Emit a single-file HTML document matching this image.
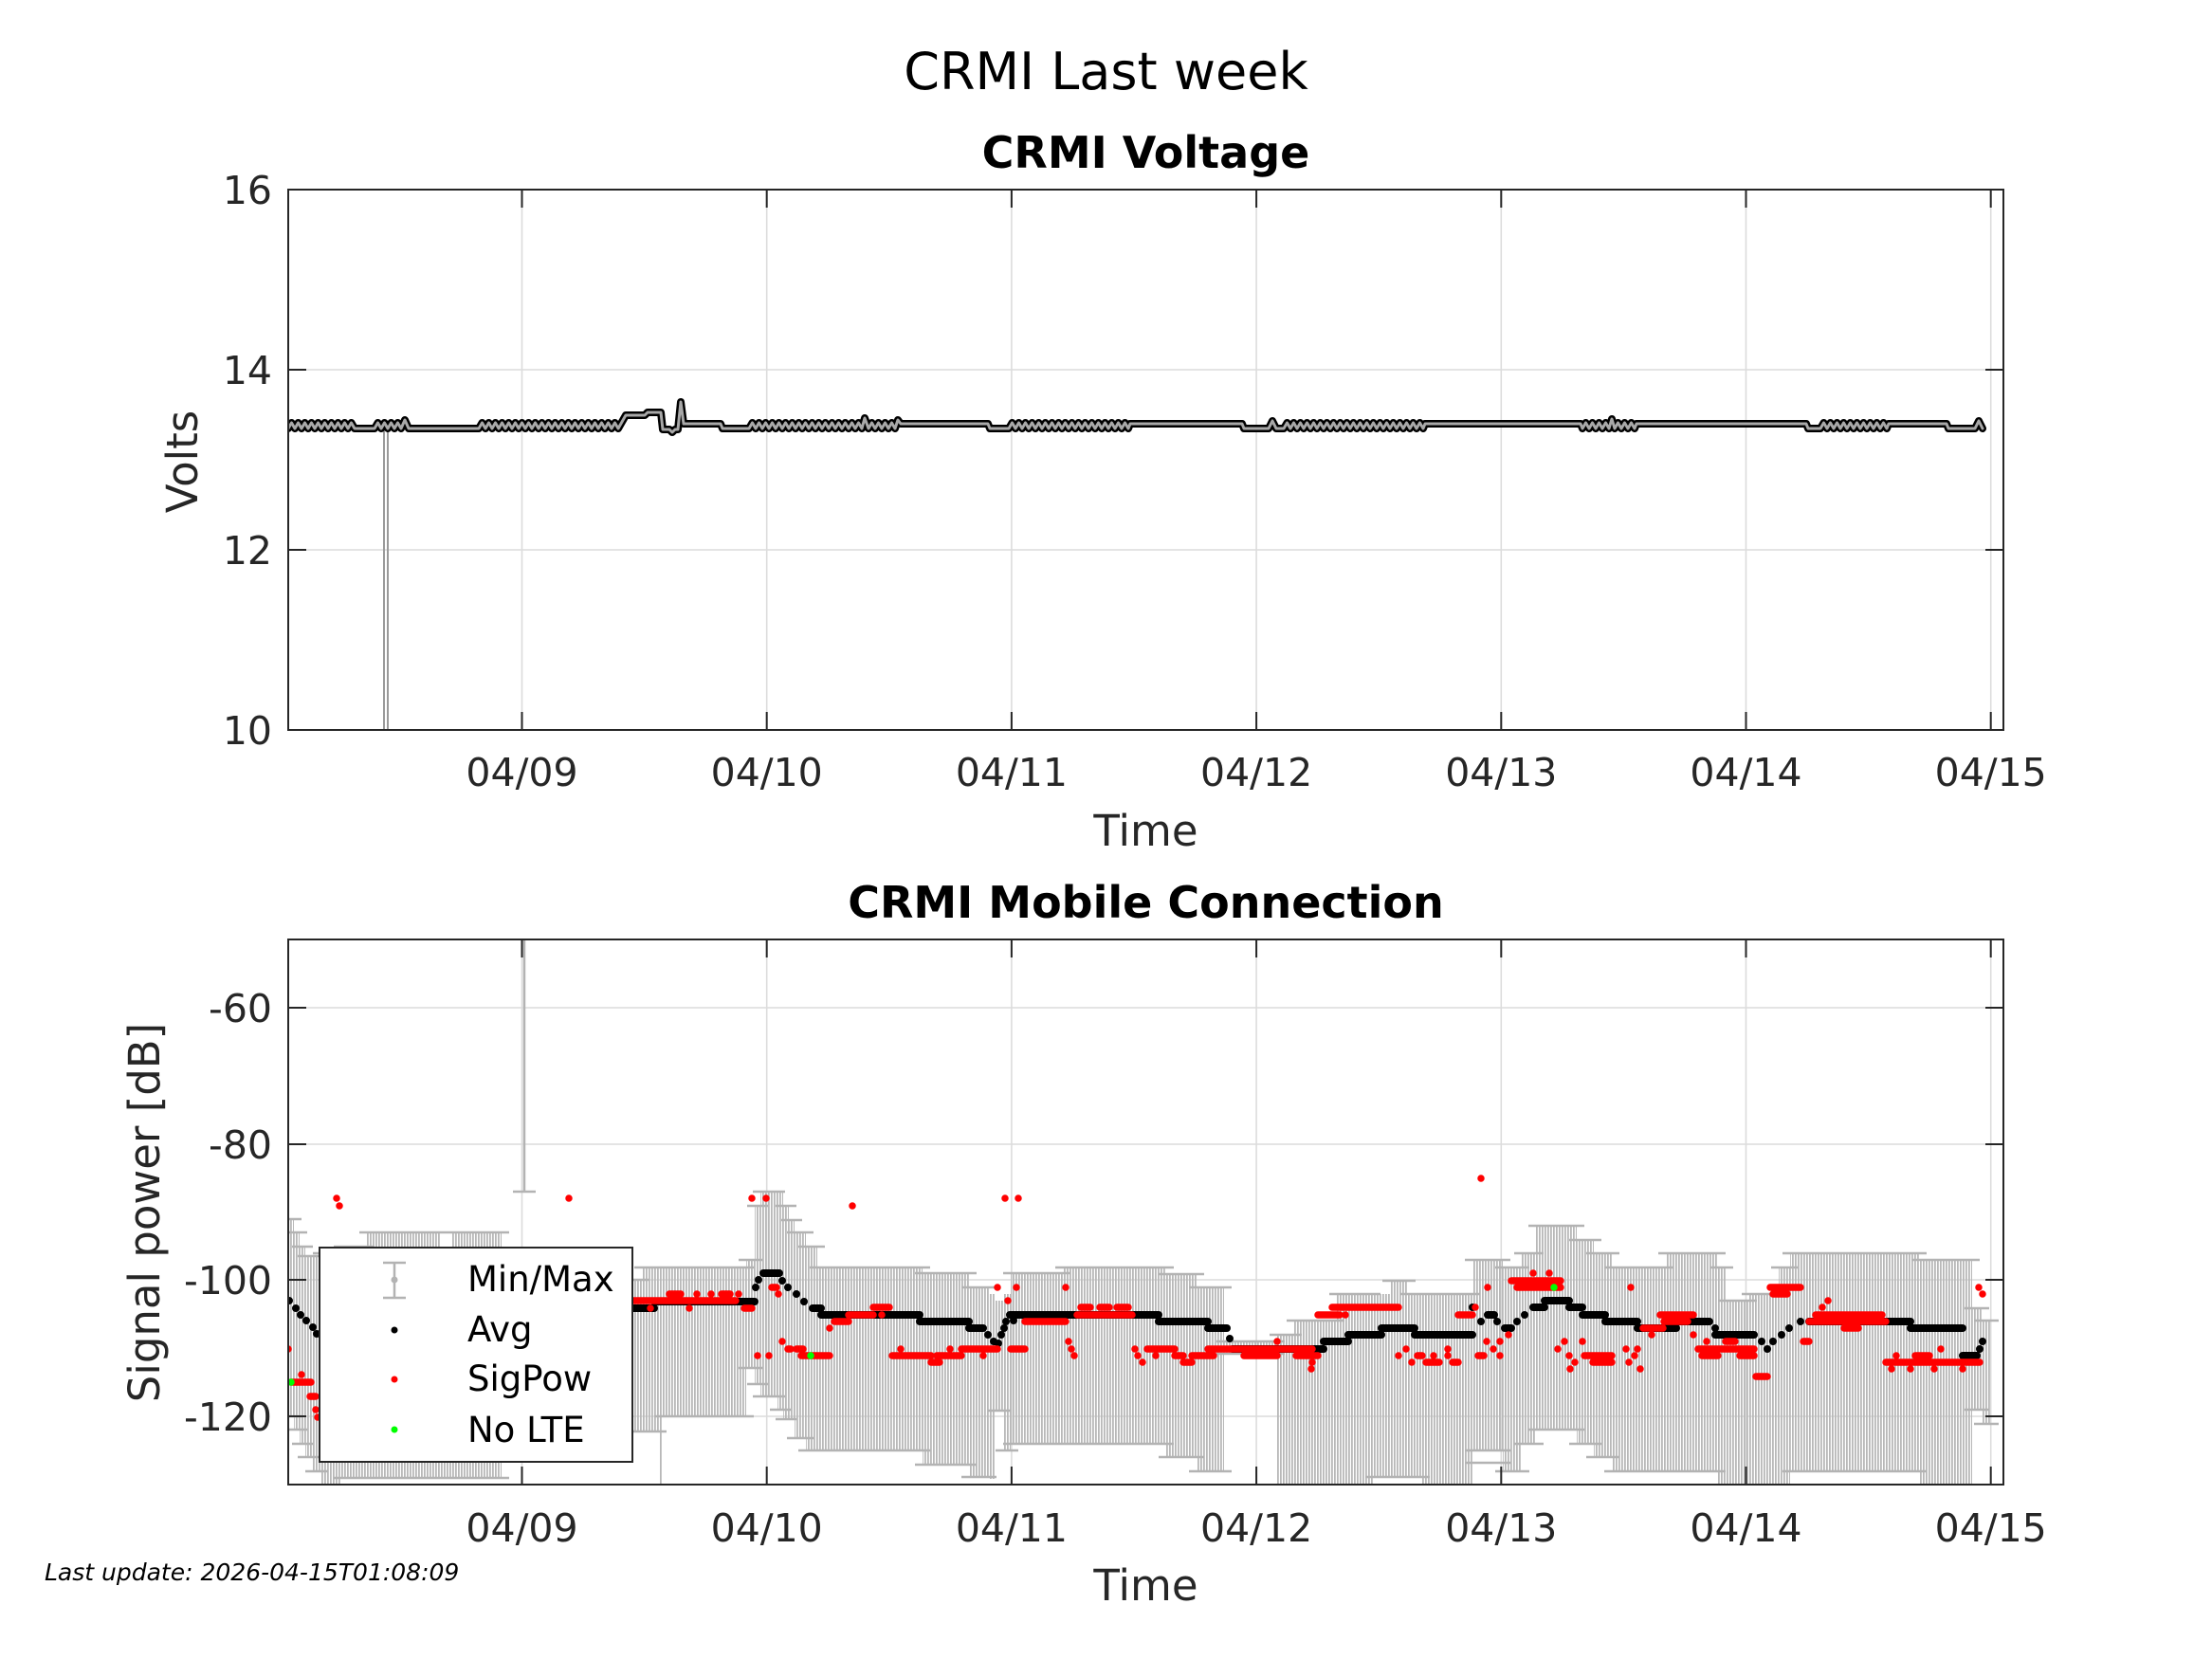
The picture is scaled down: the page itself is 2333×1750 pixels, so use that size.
<!DOCTYPE html>
<html><head><meta charset="utf-8"><style>
html,body{margin:0;padding:0;background:#fff;}
svg{display:block;}
text{font-family:"DejaVu Sans","Liberation Sans",sans-serif;}
</style></head><body>
<svg width="2333" height="1750" viewBox="0 0 2333 1750" xmlns="http://www.w3.org/2000/svg">
<defs>
<pattern id="eb" width="3" height="8" patternUnits="userSpaceOnUse"><rect x="0" y="0" width="1.8" height="8" fill="#b8b8b8"/></pattern>
<clipPath id="c1"><rect x="304" y="200" width="1809" height="570"/></clipPath>
<clipPath id="c2"><rect x="304" y="991" width="1809" height="575"/></clipPath>
<path id="vl" d="M304 452l3.5-6 3.5 6 3.5-6 3.5 6 3.5-6 3.5 6 3.5-6 3.5 6 3.5-6 3.5 6 3.5-6 3.5 6 3.5-6 3.5 6 3.5-6 3.5 6 3.5-6 3.5 6 3.5-6 3.5 6H395l3.5-6 3.5 6 3.5-6 3.5 6 3.5-6 3.5 6 3.5-6 3.5 6L427 443L431 452H505l3.5-6 3.5 6 3.5-6 3.5 6 3.5-6 3.5 6 3.5-6 3.5 6 3.5-6 3.5 6 3.5-6 3.5 6 3.5-6 3.5 6 3.5-6 3.5 6 3.5-6 3.5 6 3.5-6 3.5 6 3.5-6 3.5 6 3.5-6 3.5 6 3.5-6 3.5 6 3.5-6 3.5 6 3.5-6 3.5 6 3.5-6 3.5 6 3.5-6 3.5 6 3.5-6 3.5 6 3.5-6 3.5 6 3.5-6 3.5 6 3.5-6 3.5 6L660 438H680L683 435H697L699 453H706L709 456L712 453H715L718 424L721 447H760L762 452H790l3.5-6 3.5 6 3.5-6 3.5 6 3.5-6 3.5 6 3.5-6 3.5 6 3.5-6 3.5 6 3.5-6 3.5 6 3.5-6 3.5 6 3.5-6 3.5 6 3.5-6 3.5 6 3.5-6 3.5 6 3.5-6 3.5 6 3.5-6 3.5 6 3.5-6 3.5 6 3.5-6 3.5 6 3.5-6 3.5 6 3.5-6 3.5 6 3.5-6 3.5 6L912 441L916 452l3.5-6 3.5 6 3.5-6 3.5 6 3.5-6 3.5 6 3.5-6 3.5 6L947 443L950 447H1042L1044 452H1064l3.5-6 3.5 6 3.5-6 3.5 6 3.5-6 3.5 6 3.5-6 3.5 6 3.5-6 3.5 6 3.5-6 3.5 6 3.5-6 3.5 6 3.5-6 3.5 6 3.5-6 3.5 6 3.5-6 3.5 6 3.5-6 3.5 6 3.5-6 3.5 6 3.5-6 3.5 6 3.5-6 3.5 6 3.5-6 3.5 6 3.5-6 3.5 6 3.5-6 3.5 6 3.5-6 3.5 6L1192 447H1310L1312 452H1338L1342 444L1346 452H1354l3.5-6 3.5 6 3.5-6 3.5 6 3.5-6 3.5 6 3.5-6 3.5 6 3.5-6 3.5 6 3.5-6 3.5 6 3.5-6 3.5 6 3.5-6 3.5 6 3.5-6 3.5 6 3.5-6 3.5 6 3.5-6 3.5 6 3.5-6 3.5 6 3.5-6 3.5 6 3.5-6 3.5 6 3.5-6 3.5 6 3.5-6 3.5 6 3.5-6 3.5 6 3.5-6 3.5 6 3.5-6 3.5 6 3.5-6 3.5 6 3.5-6 3.5 6L1503 447H1667L1669 452l3.5-6 3.5 6 3.5-6 3.5 6 3.5-6 3.5 6 3.5-6 3.5 6L1700 442L1703 452l3.5-6 3.5 6 3.5-6 3.5 6 3.5-6 3.5 6L1726 447H1905L1907 452H1920l3.5-6 3.5 6 3.5-6 3.5 6 3.5-6 3.5 6 3.5-6 3.5 6 3.5-6 3.5 6 3.5-6 3.5 6 3.5-6 3.5 6 3.5-6 3.5 6 3.5-6 3.5 6 3.5-6 3.5 6L1992 447H2053L2055 452H2083L2087 444L2091 452"/>
</defs>
<rect width="2333" height="1750" fill="#fff"/>

<text x="1166.5" y="94" font-size="54" text-anchor="middle" fill="#000">CRMI Last week</text>
<text x="1208.5" y="177" font-size="46" font-weight="bold" text-anchor="middle" fill="#000">CRMI Voltage</text>
<text x="1208.5" y="968" font-size="46" font-weight="bold" text-anchor="middle" fill="#000">CRMI Mobile Connection</text>

<g stroke="#dcdcdc" stroke-width="1.6" fill="none">
<path d="M304 390H2113M304 580H2113"/>
<path d="M550.5 200V770M808.7 200V770M1066.9 200V770M1325.1 200V770M1583.3 200V770M1841.5 200V770M2099.7 200V770"/>
</g>
<g clip-path="url(#c1)">
<path d="M405 452V772M409 452V772" stroke="#9a9a9a" stroke-width="2" fill="none"/>
<g fill="none" stroke-linejoin="round" stroke-linecap="round">
<use href="#vl" stroke="#000" stroke-width="8"/>
<use href="#vl" stroke="#a8a8a8" stroke-width="3"/>
</g>
</g>
<rect x="304" y="200" width="1809" height="570" fill="none" stroke="#262626" stroke-width="2"/>
<g stroke="#262626" stroke-width="2" fill="none">
<path d="M304 200h19M304 390h19M304 580h19M304 770h19M2113 200h-19M2113 390h-19M2113 580h-19M2113 770h-19"/>
<path d="M550.5 770v-19M808.7 770v-19M1066.9 770v-19M1325.1 770v-19M1583.3 770v-19M1841.5 770v-19M2099.7 770v-19"/>
<path d="M550.5 200v19M808.7 200v19M1066.9 200v19M1325.1 200v19M1583.3 200v19M1841.5 200v19M2099.7 200v19"/>
</g>
<g font-size="41" fill="#262626" text-anchor="end">
<text x="287" y="215">16</text><text x="287" y="405">14</text><text x="287" y="595">12</text><text x="287" y="785">10</text>
</g>
<g font-size="41" fill="#262626" text-anchor="middle">
<text x="550.5" y="829">04/09</text><text x="808.7" y="829">04/10</text><text x="1066.9" y="829">04/11</text><text x="1325.1" y="829">04/12</text><text x="1583.3" y="829">04/13</text><text x="1841.5" y="829">04/14</text><text x="2099.7" y="829">04/15</text>
</g>
<text x="1208.5" y="892" font-size="45" fill="#262626" text-anchor="middle">Time</text>
<text transform="translate(208,487) rotate(-90)" font-size="45" fill="#262626" text-anchor="middle">Volts</text>

<g stroke="#dcdcdc" stroke-width="1.6" fill="none">
<path d="M304 1063H2113M304 1207H2113M304 1350H2113M304 1494H2113"/>
<path d="M550.5 991V1566M808.7 991V1566M1066.9 991V1566M1325.1 991V1566M1583.3 991V1566M1841.5 991V1566M2099.7 991V1566"/>
</g>
<g clip-path="url(#c2)">
<g fill="url(#eb)">
<rect x="304" y="1286" width="6" height="208"/>
<rect x="310" y="1300" width="6" height="208"/>
<rect x="316" y="1315" width="6" height="208"/>
<rect x="322" y="1325" width="8" height="212"/>
<rect x="330" y="1325" width="8" height="227"/>
<rect x="338" y="1322" width="22" height="244"/>
<rect x="360" y="1315" width="27" height="244"/>
<rect x="387" y="1300" width="78" height="259"/>
<rect x="465" y="1330" width="12" height="229"/>
<rect x="477" y="1300" width="52" height="259"/>
<rect x="529" y="1337" width="138" height="183"/>
<rect x="667" y="1350" width="10" height="160"/>
<rect x="677" y="1337" width="18" height="173"/>
<rect x="695" y="1337" width="3" height="229"/>
<rect x="698" y="1337" width="89" height="157"/>
<rect x="787" y="1329" width="9" height="114"/>
<rect x="796" y="1272" width="6" height="188"/>
<rect x="802" y="1257" width="18" height="216"/>
<rect x="820" y="1257" width="6" height="230"/>
<rect x="826" y="1272" width="6" height="225"/>
<rect x="832" y="1287" width="6" height="210"/>
<rect x="838" y="1300" width="12" height="217"/>
<rect x="850" y="1315" width="12" height="215"/>
<rect x="862" y="1337" width="111" height="193"/>
<rect x="973" y="1343" width="49" height="202"/>
<rect x="1022" y="1358" width="21" height="200"/>
<rect x="1043" y="1365" width="7" height="195"/>
<rect x="1050" y="1372" width="8" height="116"/>
<rect x="1058" y="1365" width="8" height="165"/>
<rect x="1066" y="1343" width="55" height="180"/>
<rect x="1121" y="1337" width="109" height="186"/>
<rect x="1230" y="1344" width="32" height="193"/>
<rect x="1262" y="1358" width="29" height="194"/>
<rect x="1291" y="1415" width="56" height="13"/>
<rect x="1347" y="1408" width="18" height="158"/>
<rect x="1365" y="1393" width="45" height="173"/>
<rect x="1410" y="1365" width="38" height="201"/>
<rect x="1448" y="1365" width="18" height="193"/>
<rect x="1466" y="1351" width="19" height="207"/>
<rect x="1485" y="1365" width="15" height="193"/>
<rect x="1500" y="1365" width="53" height="201"/>
<rect x="1553" y="1329" width="32" height="201"/>
<rect x="1585" y="1337" width="20" height="215"/>
<rect x="1605" y="1322" width="15" height="201"/>
<rect x="1620" y="1293" width="43" height="215"/>
<rect x="1663" y="1308" width="18" height="215"/>
<rect x="1681" y="1322" width="19" height="215"/>
<rect x="1700" y="1337" width="57" height="215"/>
<rect x="1757" y="1322" width="55" height="230"/>
<rect x="1812" y="1337" width="8" height="229"/>
<rect x="1820" y="1372" width="25" height="194"/>
<rect x="1845" y="1365" width="31" height="201"/>
<rect x="1876" y="1337" width="12" height="229"/>
<rect x="1888" y="1322" width="136" height="230"/>
<rect x="2024" y="1329" width="56" height="237"/>
<rect x="2080" y="1380" width="10" height="107"/>
<rect x="2090" y="1393" width="10" height="109"/>
</g>
<path fill="none" stroke="#b3b3b3" stroke-width="2.5" d="M296 1286H318M296 1494H318M302 1300H324M302 1508H324M308 1315H330M308 1523H330M314 1325H338M314 1537H338M322 1325H346M322 1552H346M330 1322H368M352 1315H395M352 1559H395M379 1300H473M379 1559H473M457 1559H485M469 1300H537M469 1559H537M659 1350H685M659 1510H685M669 1337H703M669 1510H703M690 1337H795M690 1494H795M779 1329H804M779 1443H804M788 1272H810M788 1460H810M794 1257H828M794 1473H828M812 1487H834M818 1272H840M818 1497H840M824 1287H846M830 1300H858M830 1517H858M842 1315H870M842 1530H870M854 1337H981M854 1530H981M965 1343H1030M965 1545H1030M1014 1358H1051M1014 1558H1051M1042 1488H1066M1050 1530H1074M1058 1343H1129M1058 1523H1129M1113 1337H1238M1113 1523H1238M1222 1344H1270M1222 1537H1270M1254 1358H1299M1254 1552H1299M1283 1415H1355M1283 1428H1355M1339 1408H1373M1357 1393H1418M1402 1365H1456M1440 1558H1474M1458 1351H1493M1458 1558H1493M1477 1365H1508M1477 1558H1508M1492 1365H1561M1545 1329H1593M1545 1530H1593M1545 1543H1593M1577 1337H1613M1577 1552H1613M1597 1322H1628M1597 1523H1628M1612 1293H1671M1612 1508H1671M1655 1308H1689M1655 1523H1689M1673 1322H1708M1673 1537H1708M1692 1337H1765M1692 1552H1765M1749 1322H1820M1749 1552H1820M1804 1337H1828M1812 1372H1853M1837 1365H1884M1868 1337H1896M1880 1322H2032M1880 1552H2032M2016 1329H2088M2072 1380H2098M2072 1487H2098M2082 1393H2108M2082 1502H2108M553 991V1257M541 1257H565"/>
<g fill="none" stroke-linecap="round">
<path stroke="#000" stroke-width="8" d="M305 1372h0M312 1380h0M317 1387h0M323 1393h0M330 1400h0M334 1407h0M667 1380H690M690 1373H796M797 1358h0M800 1350h0M805 1343H822M825 1351h0M831 1358h0M840 1365h0M848 1373h0M857 1380H866M866 1387H970M970 1394H1022M1022 1401H1037M1042 1408h0M1048 1415h0M1053 1417h0M1056 1408h0M1059 1401h0M1061 1394h0M1065 1387H1222M1069 1393h0M1222 1394H1274M1274 1401H1294M1297 1412h0M1300 1423H1396M1396 1415H1422M1422 1408H1457M1457 1401H1492M1492 1408H1553M1553 1379h0M1562 1394h0M1569 1387H1576M1579 1394h0M1587 1401H1594M1600 1394h0M1608 1387h0M1617 1379H1629M1629 1372H1655M1655 1379H1669M1669 1387H1693M1693 1394H1727M1727 1401H1768M1768 1394H1803M1809 1401h0M1809 1408H1850M1858 1415h0M1864 1423h0M1870 1415h0M1879 1408h0M1887 1401h0M1899 1394h0M1908 1394H2015M2015 1401H2070M2070 1430H2085M2088 1423h0M2091 1415h0"/>
<path stroke="#ff0000" stroke-width="7.5" d="M304 1423h0M307 1458H328M318 1450h0M327 1473H333M333 1487h0M335 1495h0M355 1264h0M358 1272h0M600 1264h0M793 1264h0M808 1264h0M899 1272h0M1060 1264h0M1074 1264h0M667 1372H776M706 1365H718M735 1365h0M750 1365h0M761 1365H770M779 1365h0M686 1380h0M727 1380h0M785 1380H793M814 1358H819M821 1365h0M825 1415h0M831 1423H834M840 1423H847M845 1430H857M799 1430h0M811 1430h0M857 1430H875M875 1401h0M880 1394H895M895 1387H921M921 1379H938M930 1387h0M941 1430H982M950 1423h0M982 1437H991M988 1430H1014M1002 1423h0M1014 1423H1052M1037 1430h0M1052 1358h0M1063 1372h0M1066 1423H1081M1072 1358h0M1081 1394H1124M1124 1358h0M1127 1415h0M1130 1423h0M1133 1430h0M1136 1387H1194M1140 1379H1150M1160 1379H1170M1178 1379H1190M1197 1423h0M1200 1430h0M1205 1437h0M1210 1423H1239M1219 1430h0M1239 1430H1248M1248 1437H1257M1257 1430H1280M1274 1423H1350M1312 1430H1347M1347 1415h0M1350 1423H1384M1367 1430H1390M1384 1437h0M1383 1444h0M1390 1387H1411M1405 1379H1475M1413 1387h0M1419 1387h0M1475 1430h0M1483 1423h0M1489 1437h0M1495 1430H1500M1504 1437H1518M1512 1430h0M1527 1423h0M1527 1430h0M1532 1437H1538M1538 1387H1553M1556 1379h0M1559 1430H1565M1568 1415h0M1575 1423h0M1582 1430h0M1582 1415h0M1591 1408h0M1562 1243h0M1569 1358h0M1594 1351H1646M1600 1358H1646M1617 1343h0M1634 1343h0M1643 1423h0M1650 1415h0M1655 1430h0M1656 1444h0M1661 1437h0M1669 1415h0M1671 1430H1700M1680 1437H1700M1715 1423h0M1718 1437h0M1724 1430h0M1730 1444h0M1727 1423h0M1720 1358h0M1733 1401H1754M1742 1408h0M1751 1387H1786M1755 1394H1780M1786 1408h0M1791 1423H1850M1795 1430H1812M1800 1415h0M1820 1415H1830M1835 1430H1850M1852 1452H1864M1867 1358H1899M1870 1365H1885M1902 1415H1908M1908 1394H1989M1915 1387H1985M1922 1379h0M1928 1372h0M1945 1401H1960M1989 1437H2088M2000 1430h0M2020 1430H2035M1995 1444h0M2015 1444h0M2040 1444h0M2047 1423h0M2070 1444h0M2087 1358h0M2091 1365h0"/>
<path stroke="#00ff00" stroke-width="7.5" d="M307 1458h0M855 1430h0M1639 1358h0"/>
</g>
</g>
<rect x="304" y="991" width="1809" height="575" fill="none" stroke="#262626" stroke-width="2"/>
<g stroke="#262626" stroke-width="2" fill="none">
<path d="M304 1063h19M304 1207h19M304 1350h19M304 1494h19M2113 1063h-19M2113 1207h-19M2113 1350h-19M2113 1494h-19"/>
<path d="M550.5 1566v-19M808.7 1566v-19M1066.9 1566v-19M1325.1 1566v-19M1583.3 1566v-19M1841.5 1566v-19M2099.7 1566v-19"/>
<path d="M550.5 991v19M808.7 991v19M1066.9 991v19M1325.1 991v19M1583.3 991v19M1841.5 991v19M2099.7 991v19"/>
</g>

<rect x="337" y="1316" width="330" height="226" fill="#fff" stroke="#262626" stroke-width="2"/>
<path d="M416 1332V1369M404 1332H428M404 1369H428" stroke="#b3b3b3" stroke-width="2.5" fill="none"/>
<circle cx="416" cy="1350" r="3.5" fill="#b3b3b3"/>
<circle cx="416" cy="1403" r="3.5" fill="#000"/>
<circle cx="416" cy="1455" r="3.5" fill="#ff0000"/>
<circle cx="416" cy="1508" r="3.5" fill="#00ff00"/>
<g font-size="37" fill="#000">
<text x="493" y="1362">Min/Max</text>
<text x="493" y="1415">Avg</text>
<text x="493" y="1467">SigPow</text>
<text x="493" y="1521">No LTE</text>
</g>

<g font-size="41" fill="#262626" text-anchor="end">
<text x="287" y="1078">-60</text><text x="287" y="1222">-80</text><text x="287" y="1365">-100</text><text x="287" y="1509">-120</text>
</g>
<g font-size="41" fill="#262626" text-anchor="middle">
<text x="550.5" y="1626">04/09</text><text x="808.7" y="1626">04/10</text><text x="1066.9" y="1626">04/11</text><text x="1325.1" y="1626">04/12</text><text x="1583.3" y="1626">04/13</text><text x="1841.5" y="1626">04/14</text><text x="2099.7" y="1626">04/15</text>
</g>
<text x="1208.5" y="1688" font-size="45" fill="#262626" text-anchor="middle">Time</text>
<text transform="translate(168,1279) rotate(-90)" font-size="45" fill="#262626" text-anchor="middle">Signal power [dB]</text>

<text x="47" y="1667" font-size="25" font-style="italic" fill="#000">Last update: 2026-04-15T01:08:09</text>
</svg>
</body></html>
